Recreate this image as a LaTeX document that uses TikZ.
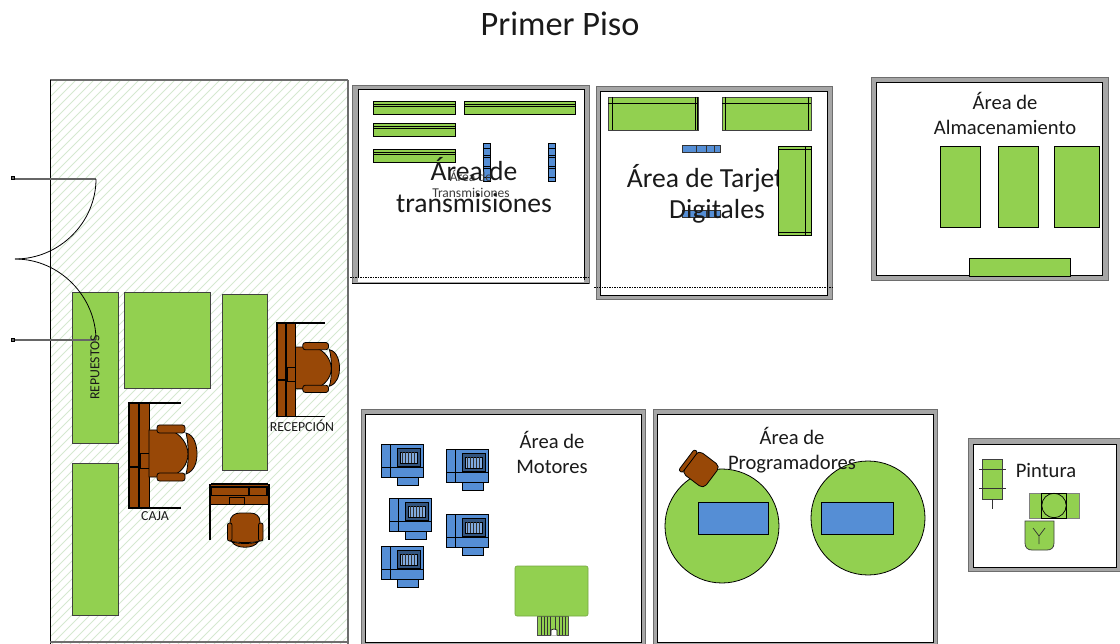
\documentclass[tikz,border=0pt]{standalone}
\usepackage{fontspec}
\setmainfont{Carlito}
\definecolor{fgreen}{HTML}{92D050}
\definecolor{fblue}{HTML}{558ED5}
\definecolor{fbrown}{HTML}{984807}
\definecolor{wallgray}{HTML}{A6A6A6}
\definecolor{walledge}{HTML}{6E6E6E}
\definecolor{hatchc}{HTML}{D5E8D0}
\definecolor{txtc}{HTML}{1A1A1A}
\tikzset{
  greenbox/.style={fill=fgreen,draw=black!75,line width=.8pt},
  bluebox/.style={fill=fblue,draw=black,line width=.7pt},
  brownpart/.style={fill=fbrown,draw=black,line width=.8pt},
  wallouter/.style={fill=wallgray,draw=walledge,line width=.8pt},
  wallinner/.style={fill=white,draw=black,line width=.8pt},
  label/.style={text=txtc,align=center,inner sep=0pt,font=\fontsize{20.6}{25}\selectfont},
  biglabel/.style={text=txtc,align=center,inner sep=0pt,font=\fontsize{27.6}{31.5}\selectfont},
  smalllabel/.style={text=txtc!85,align=center,inner sep=0pt,font=\fontsize{13.5}{15}\selectfont},
  caplabel/.style={text=txtc,inner sep=0pt,font=\fontsize{13.8}{15}\selectfont},
  door/.style={draw=black!60,line width=2.8pt},
}
% desk and chair, in a local frame of 68 by 105
\newcommand{\deskchair}{%
  \fill[fbrown] (0,0) rectangle (20,105);
  \draw[black,line width=.7pt] (20,1) -- (20,104);
  \draw[black,line width=1.7pt] (0,0) rectangle (10,105);
  \draw[black,line width=2.4pt] (0,64) -- (10,64);
  \draw[black,line width=1.5pt] (0,0) -- (52,0);
  \draw[black,line width=1.5pt] (0,105) -- (52,105);
  \draw[brownpart,line width=.5pt] (11,50) rectangle (20,65);
  \draw[brownpart] (20,27) -- (40,27) .. controls (52,30) and (59,42) .. (59,51)
     .. controls (59,61) and (52,71) .. (40,74) -- (20,74) -- cycle;
  \draw[brownpart,rounded corners=2.5pt] (28,22) rectangle (56,30);
  \draw[brownpart,rounded corners=2.5pt] (28,70) rectangle (56,78);
  \draw[brownpart] (57,30) .. controls (66,32) and (68,44) .. (68,51)
     .. controls (68,58) and (66,68) .. (57,71)
     .. controls (60,60) and (60,42) .. (57,30) -- cycle;
}
% motor unit, local origin at the top left corner of the body
\newcommand{\motorunit}{%
  \draw[bluebox] (16,33) rectangle (37,41);
  \draw[bluebox] (0,0) rectangle (42,33);
  \draw[black,line width=.7pt] (9,0) -- (9,33) (0,23) -- (42,23);
  \fill[fblue!60!black] (16,4) rectangle (39,22);
  \draw[black,line width=.7pt] (16,4) rectangle (39,22);
  \draw[black,line width=.6pt,fill=fblue!75!white] (19,8) rectangle (36,19);
  \foreach \i in {21.5,24.5,...,34}{\draw[black!80,line width=.9pt] (\i,8) -- (\i,19);}
}
\begin{document}
\begin{tikzpicture}[x=1pt,y=-1pt]
\useasboundingbox (0,0) rectangle (1120,644);
\node[inner sep=0pt,text=txtc,font=\fontsize{34.3}{40}\selectfont] (title) at (560,24) {Primer Piso};

% left room with hatching
\begin{scope}
  \clip (50,80) rectangle (348,644);
  \foreach \k in {0,9,...,900}{\draw[hatchc,line width=.8pt] (\k-560,644) -- ++(590,-590);}
\end{scope}
\draw[walledge,line width=1.2pt] (50,80) -- (348,80);
\draw[walledge,line width=1.2pt] (348,80) -- (348,644);
\draw[black,line width=.9pt] (50,80) -- (50,644);
\draw[walledge,line width=1.2pt] (50,642) -- (348,642);

\draw[greenbox] (72,292) rectangle (118,443);
\draw[greenbox] (124,292) rectangle (210,388);
\draw[greenbox] (222,294) rectangle (267,470);
\draw[greenbox] (72,463) rectangle (118,615);

% doors
\draw[door] (15,179) -- (96,179);
\draw[door] (15,340) -- (96,340);
\draw[black,line width=.8pt,fill=black!60] (11,176.5) rectangle (14.5,179.5);
\draw[black,line width=.8pt,fill=black!60] (11,338.5) rectangle (14.5,341.5);
\draw[black,line width=.8pt] (96,179) .. controls (96,222) and (60,259) .. (15,259);
\draw[black,line width=.8pt] (96,340) .. controls (96,297) and (60,259) .. (15,259);

\node[rotate=90,caplabel] (rep) at (95,367.5) {REPUESTOS};

\begin{scope}[shift={(129,403)}]\deskchair\end{scope}
\begin{scope}[shift={(277,323)},x={(.92pt,0pt)},y={(0pt,-.89pt)}]\deskchair\end{scope}
\begin{scope}[shift={(210,484)},x={(0pt,-.94pt)},y={(.56pt,0pt)}]
  \fill[fbrown] (0,0) rectangle (22,105);
  \draw[black,line width=.8pt] (22,0) -- (22,105);
  \draw[black,line width=1.5pt] (3,3) rectangle (12,102);
  \draw[black,line width=2pt] (0,2) -- (0,103);
  \draw[black,line width=1.6pt] (3,70) -- (12,70);
  \draw[black,line width=1.4pt] (0,0) -- (60,0);
  \draw[black,line width=1.4pt] (0,105) -- (60,105);
  \draw[brownpart,line width=.5pt] (14,34) rectangle (22,62);
\end{scope}
\draw[brownpart] (230,541) -- (230,522) .. controls (230,516) and (235,513) .. (240,513)
  -- (250,513) .. controls (256,513) and (260,516) .. (260,522) -- (260,541)
  .. controls (255,543) and (235,543) .. (230,541) -- cycle;
\draw[brownpart,rounded corners=2pt] (227.5,523) rectangle (232,541);
\draw[brownpart,rounded corners=2pt] (258.5,523) rectangle (263,541);
\draw[brownpart] (232,542) .. controls (240,544) and (250,544) .. (258,542)
  .. controls (254,549) and (236,549) .. (232,542) -- cycle;

\node[caplabel] (recep) at (302,426) {RECEPCIÓN};
\node[caplabel] (caja) at (155,516) {CAJA};

% transmisiones
\draw[wallouter] (352,85) rectangle (589,283);
\draw[wallinner] (358,89) rectangle (584,279);
\fill[white] (358,278) rectangle (584,282);
\draw[black,line width=.8pt] (352,283) -- (589,283);
\foreach \a/\b/\c in {373/455/101,464/575/101,373/455/123,373/455/149}{
  \draw[greenbox,draw=black] (\a,\c) rectangle (\b,\c+13);
  \draw[black,line width=.6pt] (\a,\c+3) -- (\b,\c+3) (\a,\c+5.5) -- (\b,\c+5.5);
}
\foreach \a in {483.5,548}{
  \draw[bluebox] (\a,143.5) rectangle (\a+7,181);
  \draw[black,line width=.5pt] (\a,148) -- (\a+7,148) (\a,155) -- (\a+7,155) (\a,157) -- (\a+7,157) (\a,166) -- (\a+7,166) (\a,168) -- (\a+7,168) (\a,177) -- (\a+7,177);
}
\node[smalllabel] (trsmall) at (471,183.5) {Área de\\[1pt]Transmisiones};
\node[biglabel] (trbig) at (474,185) {Área de\\transmisiones};
\draw[black,line width=.5pt,dash pattern=on 1.5pt off 1pt] (350,277) -- (590,277);

% tarjetas
\draw[wallouter] (596,86) rectangle (832,299);
\draw[wallinner] (600,91) rectangle (827,295);
\draw[greenbox] (608,97) rectangle (698,130);
\draw[black,line width=.6pt] (608,103) -- (698,103) (612,97) -- (612,130) (695,97) -- (695,130) (697,97) -- (697,130);
\draw[greenbox] (722,97) rectangle (811,130);
\draw[black,line width=.6pt] (722,103) -- (811,103) (725,97) -- (725,130) (808,97) -- (808,130);
\foreach \c in {145,210}{
  \draw[bluebox,draw=black!80] (682,\c) rectangle (720,\c+7);
  \draw[black!80,line width=.5pt] (696,\c) -- (696,\c+7) (706,\c) -- (706,\c+7) (714,\c) -- (714,\c+7);
}
\node[biglabel] (tjbig) at (717,194) {Área de Tarjetas\hspace{8pt}\\Digitales};
\draw[greenbox,draw=black] (778,146) rectangle (811,235);
\draw[black,line width=.6pt] (778,149) -- (811,149) (778,232) -- (811,232) (805,146) -- (805,235);
\draw[black,line width=.5pt,dash pattern=on 1.5pt off 1pt] (594,287) -- (834,287);

% almacenamiento
\draw[wallouter] (871,77) rectangle (1108,280);
\draw[wallinner] (876,82) rectangle (1102,275);
\node[label] (almtxt) at (1005,113) {Área de\\Almacenamiento};
\draw[greenbox,draw=black] (940,146) rectangle (980,227);
\draw[greenbox,draw=black] (998,146) rectangle (1038,227);
\draw[greenbox,draw=black] (1054,146) rectangle (1099,227);
\draw[greenbox,draw=black] (969,258) rectangle (1070,276);

% motores
\draw[wallouter] (361,409) rectangle (645,650);
\draw[wallinner] (365,414) rectangle (641,642.5);
\foreach \a/\b in {381/444,446/449,389/498,446/514,381/546}{
  \begin{scope}[shift={(\a,\b)}]\motorunit\end{scope}
}
\node[label] (mottxt) at (552,452.5) {Área de\\Motores};
\draw[fill=fgreen,draw=black!70,line width=.6pt] (537,616) rectangle (568,635);
\fill[white] (551,635.5) -- (551,630) -- (554,629) -- (557,630) -- (557,635.5) -- cycle;
\draw[black,line width=.6pt] (551,635) -- (551,630) -- (554,629) -- (557,630) -- (557,635);
\foreach \i in {541,544,547,550,555,559,562,565}{\draw[black!80,line width=.6pt] (\i,616) -- (\i,\ifnum\i>550 \ifnum\i<556 629\else 635\fi\else 635\fi);}
\draw[fill=fgreen,draw=fgreen!80!black,line width=.6pt,rounded corners=2pt] (515,566) rectangle (588,616);

% programadores
\draw[wallouter] (653,409) rectangle (937,650);
\draw[wallinner] (657,414) rectangle (933,642.5);
\draw[greenbox,draw=black] (722,526) circle [radius=57];
\draw[greenbox,draw=black] (868,518) circle [radius=57];
\draw[bluebox] (698,502) rectangle (768,534);
\draw[bluebox] (821,502) rectangle (893,534);
\begin{scope}[shift={(700,470)},rotate=-37]
  \draw[brownpart,rounded corners=5pt] (-13,-15) rectangle (14,13);
  \draw[brownpart,rounded corners=2pt] (-17,-13) rectangle (-12.5,13);
\end{scope}
\node[label] (progtxt) at (792,450.5) {Área de\\Programadores};

% pintura
\draw[wallouter] (968,438) rectangle (1125,571);
\draw[wallinner] (973,444) rectangle (1116,567);
\node[label] (pinttxt) at (1046,470) {Pintura};
\draw[greenbox] (982,459) rectangle (1002,499);
\draw[black!80,line width=.7pt] (979,469.5) -- (1006,469.5) (979,488.5) -- (1006,488.5) (992.5,499) -- (992.5,509);
\draw[greenbox,draw=black!50] (1029,493) rectangle (1079,518);
\draw[black,line width=.7pt] (1041.5,493) rectangle (1066.5,518);
\draw[black,line width=.7pt] (1054,505.5) circle [radius=12.2];
\draw[greenbox] (1025,521) -- (1054,521) -- (1054,543) .. controls (1054,548) and (1051,550) .. (1047,550) -- (1032,550) .. controls (1028,550) and (1025,548) .. (1025,543) -- cycle;
\draw[black!80,line width=.7pt] (1033,528) -- (1039,536) -- (1045,528) (1039,536) -- (1039,544);
\end{tikzpicture}
\end{document}
